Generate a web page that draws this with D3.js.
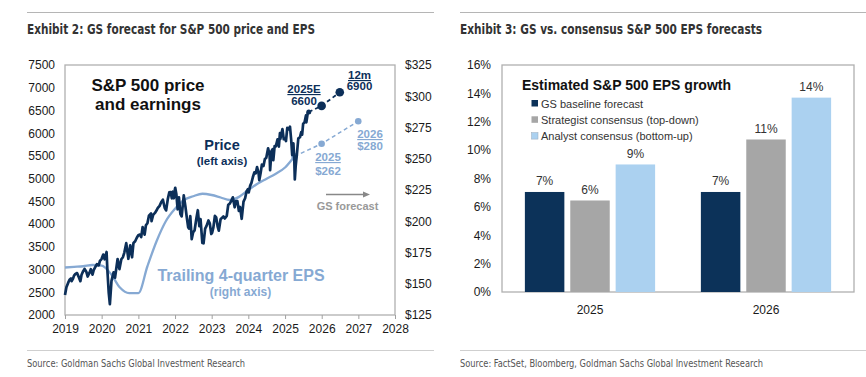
<!DOCTYPE html>
<html><head><meta charset="utf-8">
<script src="https://cdn.jsdelivr.net/npm/d3@7"></script>
<style>
body{margin:0;background:#fff;}
svg{display:block;font-family:"Liberation Sans",Arial,sans-serif;}
.cond{font-family:"Liberation Sans Narrow","DejaVu Sans Condensed","Arial Narrow",sans-serif;font-stretch:condensed;}
</style></head>
<body><svg id="c" width="866" height="377"></svg>
<script>
// ---------------- DATA ----------------
const leftTitle = "Exhibit 2: GS forecast for S&P 500 price and EPS";
const rightTitle = "Exhibit 3: GS vs. consensus S&P 500 EPS forecasts";
const leftSource = "Source: Goldman Sachs Global Investment Research";
const rightSource = "Source: FactSet, Bloomberg, Goldman Sachs Global Investment Research";

const xYearTicks = [2019,2020,2021,2022,2023,2024,2025,2026,2027,2028];
const leftTicks = [2000,2500,3000,3500,4000,4500,5000,5500,6000,6500,7000,7500];
const rightTicks = [125,150,175,200,225,250,275,300,325];

// S&P 500 price (left axis)
const spxPrice = [
["2019-01-01",2440],["2019-01-15",2610],["2019-02-01",2706],["2019-02-15",2775],["2019-03-01",2803],["2019-03-08",2743],["2019-03-22",2800],["2019-04-01",2867],["2019-04-15",2905],["2019-05-01",2923],["2019-05-15",2850],["2019-06-03",2744],["2019-06-15",2886],["2019-07-01",2964],["2019-07-15",3014],["2019-08-01",2953],["2019-08-15",2847],["2019-09-01",2926],["2019-09-15",3007],["2019-10-02",2887],["2019-10-15",2995],["2019-11-01",3066],["2019-11-15",3120],["2019-12-03",3093],["2019-12-15",3190],["2019-12-31",3230],
["2020-01-17",3330],["2020-01-31",3226],["2020-02-19",3386],["2020-02-28",2954],["2020-03-12",2481],["2020-03-23",2237],["2020-04-08",2750],["2020-04-29",2940],["2020-05-13",2820],["2020-06-08",3232],["2020-06-26",3009],["2020-07-15",3227],["2020-07-31",3271],["2020-08-14",3373],["2020-09-02",3580],["2020-09-23",3237],["2020-10-12",3534],["2020-10-30",3270],["2020-11-13",3585],["2020-11-30",3622],["2020-12-15",3695],["2020-12-31",3756],
["2021-01-15",3768],["2021-01-29",3714],["2021-02-12",3934],["2021-03-04",3768],["2021-03-17",3974],["2021-04-01",4019],["2021-04-16",4185],["2021-05-07",4232],["2021-05-12",4063],["2021-05-28",4204],["2021-06-15",4246],["2021-06-30",4297],["2021-07-15",4360],["2021-07-30",4395],["2021-08-16",4479],["2021-09-02",4537],["2021-09-20",4358],["2021-10-04",4300],["2021-10-21",4549],["2021-11-05",4697],["2021-11-18",4704],["2021-11-30",4567],["2021-12-10",4712],["2021-12-20",4568],["2021-12-31",4766],
["2022-01-03",4797],["2022-01-14",4663],["2022-01-27",4326],["2022-02-09",4587],["2022-02-23",4225],["2022-03-08",4170],["2022-03-29",4631],["2022-04-14",4393],["2022-04-29",4132],["2022-05-12",3930],["2022-05-20",3901],["2022-06-02",4176],["2022-06-16",3667],["2022-07-01",3825],["2022-07-15",3863],["2022-08-01",4118],["2022-08-16",4305],["2022-08-31",3955],["2022-09-12",4110],["2022-09-30",3586],["2022-10-12",3577],["2022-10-28",3901],["2022-11-10",3956],["2022-11-30",4080],["2022-12-13",4019],["2022-12-28",3783],
["2023-01-05",3808],["2023-01-18",3929],["2023-02-02",4179],["2023-02-15",4147],["2023-03-01",3951],["2023-03-13",3855],["2023-03-31",4109],["2023-04-14",4137],["2023-04-28",4169],["2023-05-12",4124],["2023-05-31",4179],["2023-06-15",4425],["2023-06-30",4450],["2023-07-14",4505],["2023-07-31",4589],["2023-08-18",4370],["2023-08-31",4508],["2023-09-14",4505],["2023-09-29",4288],["2023-10-11",4376],["2023-10-27",4117],["2023-11-14",4495],["2023-11-30",4568],["2023-12-14",4719],["2023-12-29",4770],
["2024-01-05",4697],["2024-01-19",4840],["2024-02-01",4906],["2024-02-15",5030],["2024-03-01",5137],["2024-03-15",5117],["2024-03-28",5254],["2024-04-12",5123],["2024-04-19",4967],["2024-05-03",5128],["2024-05-15",5308],["2024-05-31",5278],["2024-06-14",5431],["2024-06-28",5460],["2024-07-16",5667],["2024-07-31",5522],["2024-08-05",5186],["2024-08-19",5608],["2024-08-30",5648],["2024-09-06",5408],["2024-09-19",5713],["2024-10-01",5709],["2024-10-18",5864],["2024-10-31",5705],["2024-11-11",6001],["2024-11-15",5870],["2024-12-06",6090],["2024-12-19",5867],["2024-12-31",5882],
["2025-01-10",5827],["2025-01-23",6119],["2025-02-06",6083],["2025-02-19",6144],["2025-03-03",5850],["2025-03-13",5522],["2025-03-25",5776],["2025-04-03",5397],["2025-04-08",4982],["2025-04-17",5283],["2025-04-30",5569],["2025-05-13",5887],["2025-05-30",5912],["2025-06-11",6022],["2025-06-20",5967],["2025-06-30",6205],["2025-07-15",6244],["2025-07-28",6390],["2025-08-01",6238],["2025-08-15",6450],["2025-08-25",6466]
];
// Trailing 4-quarter EPS (right axis)
const epsDates = ["2019-01-01","2019-04-01","2019-07-01","2019-10-01","2020-01-01","2020-04-01","2020-07-01","2020-10-01","2021-01-01","2021-04-01","2021-07-01","2021-10-01","2022-01-01","2022-04-01","2022-07-01","2022-10-01","2023-01-01","2023-04-01","2023-07-01","2023-10-01","2024-01-01","2024-04-01","2024-07-01","2024-10-01","2025-01-01","2025-04-05"];
const epsValues = [163,163.5,164,165,164.5,158,147,142.5,142.5,164,184,200,210,217,220,222,221,219,217,219.5,225,230,234,238,243,252];
// GS forecasts
const priceForecastDates = ["2025-12-31","2026-06-30"];
const priceForecastValues = [6600,6900];
const epsForecastDates = ["2025-12-31","2026-12-31"];
const epsForecastValues = [262,280];

// Exhibit 3
const barCategories = ["2025","2026"];
const barSeries = ["GS baseline forecast","Strategist consensus (top-down)","Analyst consensus (bottom-up)"];
const gsBaseline = [7.05,7.05];
const strategistConsensus = [6.45,10.75];
const analystConsensus = [8.99,13.7];
const barTicks = [0,2,4,6,8,10,12,14,16];

// ---------------- DRAW ----------------
const svg = d3.select("#c");
const navy = "#0c2f59", lightBlue = "#86a9d3";
const parse = d3.timeParse("%Y-%m-%d");

function header(x, x2, title, tw) {
  svg.append("line").attr("x1",x).attr("x2",x2).attr("y1",12.5).attr("y2",12.5).attr("stroke","#b5b5b5").attr("stroke-width",1);
  svg.append("text").attr("class","cond").attr("x",x).attr("y",34).attr("font-size",14).attr("font-weight","bold").attr("fill","#333")
     .attr("textLength",tw).attr("lengthAdjust","spacingAndGlyphs").text(title);
}
function footer(x, x2, src, tw) {
  svg.append("line").attr("x1",x).attr("x2",x2).attr("y1",350.5).attr("y2",350.5).attr("stroke","#cfcfcf").attr("stroke-width",1);
  svg.append("text").attr("class","cond").attr("x",x).attr("y",367).attr("font-size",10.5).attr("fill","#555")
     .attr("textLength",tw).attr("lengthAdjust","spacingAndGlyphs").text(src);
}
header(27, 434, leftTitle, 288);
header(460, 866, rightTitle, 302);
footer(27, 434, leftSource, 218);
footer(460, 866, rightSource, 303);

// ---- Exhibit 2 ----
const L = {l:65, r:395, t:65, b:315};
const x = d3.scaleTime().domain([new Date(2019,0,1), new Date(2028,0,1)]).range([L.l, L.r]);
const yL = d3.scaleLinear().domain([2000,7500]).range([L.b, L.t]);
const yR = d3.scaleLinear().domain([125,325]).range([L.b, L.t]);

const g1 = svg.append("g");
g1.append("rect").attr("x",L.l).attr("y",L.t).attr("width",L.r-L.l).attr("height",L.b-L.t)
  .attr("fill","none").attr("stroke","#b0b0b0").attr("stroke-width",1.3);

const axL = d3.axisLeft(yL).tickValues(leftTicks).tickSize(0).tickPadding(10).tickFormat(d3.format("d"));
const axR = d3.axisRight(yR).tickValues(rightTicks).tickSize(0).tickPadding(10).tickFormat(d=>"$"+d);
const axB = d3.axisBottom(x).tickValues(xYearTicks.map(y=>new Date(y,0,1))).tickSize(4).tickPadding(5).tickFormat(d3.timeFormat("%Y"));
function styleAxis(sel){
  sel.select(".domain").remove();
  sel.selectAll("text").attr("font-size",12).attr("fill","#1a1a1a").attr("font-family","Liberation Sans, Arial, sans-serif");
  sel.selectAll("line").attr("stroke","#a0a0a0");
}
g1.append("g").attr("transform",`translate(${L.l},0)`).call(axL).call(styleAxis);
g1.append("g").attr("transform",`translate(${L.r},0)`).call(axR).call(styleAxis);
g1.append("g").attr("transform",`translate(0,${L.b})`).call(axB).call(styleAxis);

const epsData = epsDates.map((d,i)=>({d:parse(d), v:epsValues[i]}));
g1.append("path").datum(epsData)
  .attr("d", d3.line().x(p=>x(p.d)).y(p=>yR(p.v)).curve(d3.curveMonotoneX))
  .attr("fill","none").attr("stroke",lightBlue).attr("stroke-width",2.3);
const epsLast = epsData[epsData.length-1];
const epsF = [epsLast].concat(epsForecastDates.map((d,i)=>({d:parse(d), v:epsForecastValues[i]})));
g1.append("path").datum(epsF)
  .attr("d", d3.line().x(p=>x(p.d)).y(p=>yR(p.v)))
  .attr("fill","none").attr("stroke",lightBlue).attr("stroke-width",1.5).attr("stroke-dasharray","4,3");
g1.selectAll(".epsdot").data(epsF).join("circle").attr("cx",p=>x(p.d)).attr("cy",p=>yR(p.v)).attr("r",3.3).attr("fill",lightBlue);

const priceData = spxPrice.map(([d,v])=>({d:parse(d), v}));
g1.append("path").datum(priceData)
  .attr("d", d3.line().x(p=>x(p.d)).y(p=>yL(p.v)))
  .attr("fill","none").attr("stroke",navy).attr("stroke-width",2.7).attr("stroke-linejoin","round");
const priceLast = priceData[priceData.length-1];
const priceF = [priceLast].concat(priceForecastDates.map((d,i)=>({d:parse(d), v:priceForecastValues[i]})));
g1.append("path").datum(priceF)
  .attr("d", d3.line().x(p=>x(p.d)).y(p=>yL(p.v)))
  .attr("fill","none").attr("stroke",navy).attr("stroke-width",1.8).attr("stroke-dasharray","4,3");
g1.selectAll(".pdot").data(priceF).join("circle").attr("cx",p=>x(p.d)).attr("cy",p=>yL(p.v)).attr("r",(p,i)=>i===0?2.5:4.3).attr("fill",navy);

function txt(g, xx, yy, s, size, color, weight, anchor, underline, tl){
  const t = g.append("text").attr("x",xx).attr("y",yy).attr("font-size",size).attr("fill",color)
    .attr("font-weight",weight||"normal").attr("text-anchor",anchor||"middle").text(s);
  if (underline) t.attr("text-decoration","underline");
  if (tl) t.attr("textLength",tl).attr("lengthAdjust","spacingAndGlyphs");
  return t;
}
txt(g1,148,90.5,"S&P 500 price",17,"#111","bold");
txt(g1,148,109.5,"and earnings",17,"#111","bold");
txt(g1,222,150,"Price",14.5,navy,"bold");
txt(g1,222,165,"(left axis)",11.5,navy,"bold");
txt(g1,304,93,"2025E",11.5,navy,"bold","middle",true);
txt(g1,304,105,"6600",11.5,navy,"bold");
txt(g1,359.5,79,"12m",11.5,navy,"bold","middle",true);
txt(g1,359.5,90,"6900",11.5,navy,"bold");
txt(g1,370,138,"2026",11.5,lightBlue,"bold","middle",true);
txt(g1,370,149.5,"$280",11.5,lightBlue,"bold");
txt(g1,328,161,"2025",11.5,lightBlue,"bold","middle",true);
txt(g1,328,174.5,"$262",11.5,lightBlue,"bold");
txt(g1,347.5,210,"GS forecast",11,"#999","bold");
txt(g1,241,281,"Trailing 4-quarter EPS",16,lightBlue,"bold");
txt(g1,240.5,295.5,"(right axis)",12,lightBlue,"bold");
g1.append("line").attr("x1",326).attr("x2",364).attr("y1",194.5).attr("y2",194.5).attr("stroke","#888").attr("stroke-width",1.3);
g1.append("path").attr("d","M363,191.5 L370,194.5 L363,197.5 Z").attr("fill","#888");

// ---- Exhibit 3 ----
const R = {l:502, r:854, t:65, b:292};
const x0 = d3.scaleBand().domain(barCategories).range([R.l,R.r]).paddingInner(0.26).paddingOuter(0.13);
const x1 = d3.scaleBand().domain(barSeries).range([0,x0.bandwidth()]).paddingInner(0.13).paddingOuter(0);
const yB = d3.scaleLinear().domain([0,16]).range([R.b,R.t]);
const colors = d3.scaleOrdinal().domain(barSeries).range(["#0c3259","#a6a6a6","#abd1f0"]);
const seriesValues = [gsBaseline, strategistConsensus, analystConsensus];

const g2 = svg.append("g");
g2.append("rect").attr("x",R.l).attr("y",R.t).attr("width",R.r-R.l).attr("height",R.b-R.t)
  .attr("fill","none").attr("stroke","#b0b0b0").attr("stroke-width",1.3);
g2.append("g").attr("transform",`translate(${R.l},0)`)
  .call(d3.axisLeft(yB).tickValues(barTicks).tickSize(0).tickPadding(11).tickFormat(d=>d+"%")).call(styleAxis);
g2.append("g").attr("transform",`translate(0,${R.b})`)
  .call(d3.axisBottom(x0).tickSize(0).tickPadding(13)).call(styleAxis);

const barData = [];
barCategories.forEach((c,ci)=>barSeries.forEach((s,si)=>barData.push({c,s,v:seriesValues[si][ci]})));
g2.selectAll(".bar").data(barData).join("rect")
  .attr("x",d=>x0(d.c)+x1(d.s)).attr("width",x1.bandwidth())
  .attr("y",d=>yB(d.v)).attr("height",d=>yB(0)-yB(d.v)).attr("fill",d=>colors(d.s));
g2.selectAll(".lbl").data(barData).join("text")
  .attr("x",d=>x0(d.c)+x1(d.s)+x1.bandwidth()/2).attr("y",d=>yB(d.v)-6.5)
  .attr("text-anchor","middle").attr("font-size",12).attr("fill","#333")
  .text(d=>Math.round(d.v)+"%");

txt(g2,522,90,"Estimated S&P 500 EPS growth",15.5,"#111","bold","start",false,209);
barSeries.forEach((s,i)=>{
  const yy = 107.5 + i*16.3;
  g2.append("rect").attr("x",531.5).attr("y",yy-7.5).attr("width",6.5).attr("height",6.5).attr("fill",colors(s))
    .attr("stroke", i===2 ? "#9ab" : "none").attr("stroke-width",0.5);
  txt(g2,541,yy,s,11,"#333","normal","start");
});
</script></body></html>
